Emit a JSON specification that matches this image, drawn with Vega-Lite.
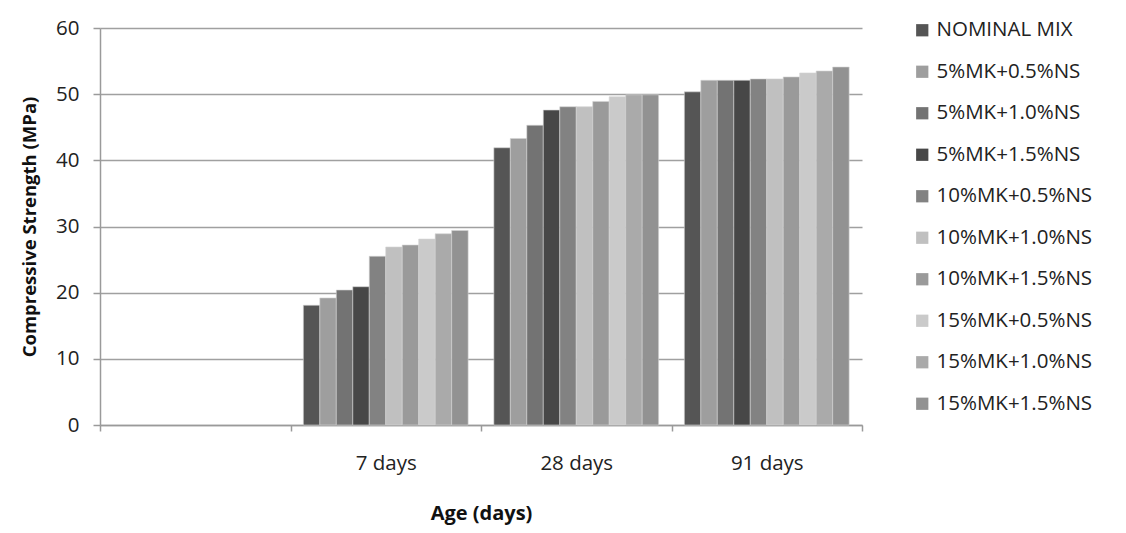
{
  "$schema": "https://vega.github.io/schema/vega-lite/v6.json",
  "width": 762,
  "height": 397,
  "autosize": {"type": "none"},
  "padding": {"left": 100, "top": 28, "right": 264, "bottom": 108},
  "background": "white",
  "config": {
    "view": {"stroke": null},
    "font": "Open Sans",
    "axis": {"labelColor": "#222222", "titleColor": "#111111", "labelFont": "Open Sans", "titleFont": "Open Sans"},
    "legend": {"labelFont": "Open Sans"}
  },
  "data": {
    "values": [
      {"age": "7 days", "mix": "NOMINAL MIX", "strength": 18.1},
      {"age": "7 days", "mix": "5%MK+0.5%NS", "strength": 19.2},
      {"age": "7 days", "mix": "5%MK+1.0%NS", "strength": 20.4},
      {"age": "7 days", "mix": "5%MK+1.5%NS", "strength": 20.9},
      {"age": "7 days", "mix": "10%MK+0.5%NS", "strength": 25.5},
      {"age": "7 days", "mix": "10%MK+1.0%NS", "strength": 26.9},
      {"age": "7 days", "mix": "10%MK+1.5%NS", "strength": 27.2},
      {"age": "7 days", "mix": "15%MK+0.5%NS", "strength": 28.1},
      {"age": "7 days", "mix": "15%MK+1.0%NS", "strength": 28.9},
      {"age": "7 days", "mix": "15%MK+1.5%NS", "strength": 29.4},
      {"age": "28 days", "mix": "NOMINAL MIX", "strength": 41.9},
      {"age": "28 days", "mix": "5%MK+0.5%NS", "strength": 43.3},
      {"age": "28 days", "mix": "5%MK+1.0%NS", "strength": 45.3},
      {"age": "28 days", "mix": "5%MK+1.5%NS", "strength": 47.6},
      {"age": "28 days", "mix": "10%MK+0.5%NS", "strength": 48.1},
      {"age": "28 days", "mix": "10%MK+1.0%NS", "strength": 48.1},
      {"age": "28 days", "mix": "10%MK+1.5%NS", "strength": 48.9},
      {"age": "28 days", "mix": "15%MK+0.5%NS", "strength": 49.6},
      {"age": "28 days", "mix": "15%MK+1.0%NS", "strength": 49.9},
      {"age": "28 days", "mix": "15%MK+1.5%NS", "strength": 49.9},
      {"age": "91 days", "mix": "NOMINAL MIX", "strength": 50.35},
      {"age": "91 days", "mix": "5%MK+0.5%NS", "strength": 52.1},
      {"age": "91 days", "mix": "5%MK+1.0%NS", "strength": 52.1},
      {"age": "91 days", "mix": "5%MK+1.5%NS", "strength": 52.1},
      {"age": "91 days", "mix": "10%MK+0.5%NS", "strength": 52.3},
      {"age": "91 days", "mix": "10%MK+1.0%NS", "strength": 52.3},
      {"age": "91 days", "mix": "10%MK+1.5%NS", "strength": 52.6},
      {"age": "91 days", "mix": "15%MK+0.5%NS", "strength": 53.2},
      {"age": "91 days", "mix": "15%MK+1.0%NS", "strength": 53.5},
      {"age": "91 days", "mix": "15%MK+1.5%NS", "strength": 54.1}
    ]
  },
  "mark": {"type": "bar", "stroke": "#d4d4d4", "strokeWidth": 0.6},
  "encoding": {
    "x": {
      "field": "age",
      "type": "nominal",
      "sort": null,
      "scale": {"domain": ["", "7 days", "28 days", "91 days"], "paddingInner": 0, "paddingOuter": 0},
      "axis": {
        "title": "Age (days)",
        "titleFontSize": 20,
        "titleFontWeight": "bold",
        "titlePadding": 30,
        "labelAngle": 0,
        "labelFontSize": 20.5,
        "labelPadding": 22,
        "tickBand": "extent",
        "tickSize": 6,
        "tickColor": "#9a9a9a",
        "domainColor": "#9a9a9a",
        "domainWidth": 1.5,
        "tickWidth": 1.5,
        "grid": false
      }
    },
    "xOffset": {
      "field": "mix",
      "type": "nominal",
      "sort": ["NOMINAL MIX", "5%MK+0.5%NS", "5%MK+1.0%NS", "5%MK+1.5%NS", "10%MK+0.5%NS", "10%MK+1.0%NS", "10%MK+1.5%NS", "15%MK+0.5%NS", "15%MK+1.0%NS", "15%MK+1.5%NS"],
      "scale": {"paddingInner": 0, "paddingOuter": 0.78}
    },
    "y": {
      "field": "strength",
      "type": "quantitative",
      "scale": {"domain": [0, 60], "nice": false},
      "axis": {
        "title": "Compressive Strength (MPa)",
        "titleFontSize": 18.5,
        "titleFontWeight": "bold",
        "titlePadding": 16,
        "values": [0, 10, 20, 30, 40, 50, 60],
        "labelFontSize": 20.5,
        "labelPadding": 14,
        "tickSize": 7,
        "tickColor": "#9a9a9a",
        "tickWidth": 1.5,
        "domainColor": "#9a9a9a",
        "domainWidth": 1.5,
        "gridColor": "#a0a0a0",
        "gridWidth": 1.5
      }
    },
    "color": {
      "field": "mix",
      "type": "nominal",
      "sort": ["NOMINAL MIX", "5%MK+0.5%NS", "5%MK+1.0%NS", "5%MK+1.5%NS", "10%MK+0.5%NS", "10%MK+1.0%NS", "10%MK+1.5%NS", "15%MK+0.5%NS", "15%MK+1.0%NS", "15%MK+1.5%NS"],
      "scale": {
        "domain": ["NOMINAL MIX", "5%MK+0.5%NS", "5%MK+1.0%NS", "5%MK+1.5%NS", "10%MK+0.5%NS", "10%MK+1.0%NS", "10%MK+1.5%NS", "15%MK+0.5%NS", "15%MK+1.0%NS", "15%MK+1.5%NS"],
        "range": ["#555555", "#9e9e9e", "#737373", "#474747", "#828282", "#c0c0c0", "#9a9a9a", "#cacaca", "#aaaaaa", "#929292"]
      },
      "legend": {
        "title": null,
        "orient": "none",
        "legendX": 812,
        "legendY": -8,
        "symbolType": "square",
        "symbolSize": 150,
        "symbolStrokeWidth": 0,
        "labelFontSize": 20.5,
        "labelColor": "#222222",
        "labelOffset": 4,
        "rowPadding": 20.5,
        "labelLimit": 300
      }
    }
  }
}
